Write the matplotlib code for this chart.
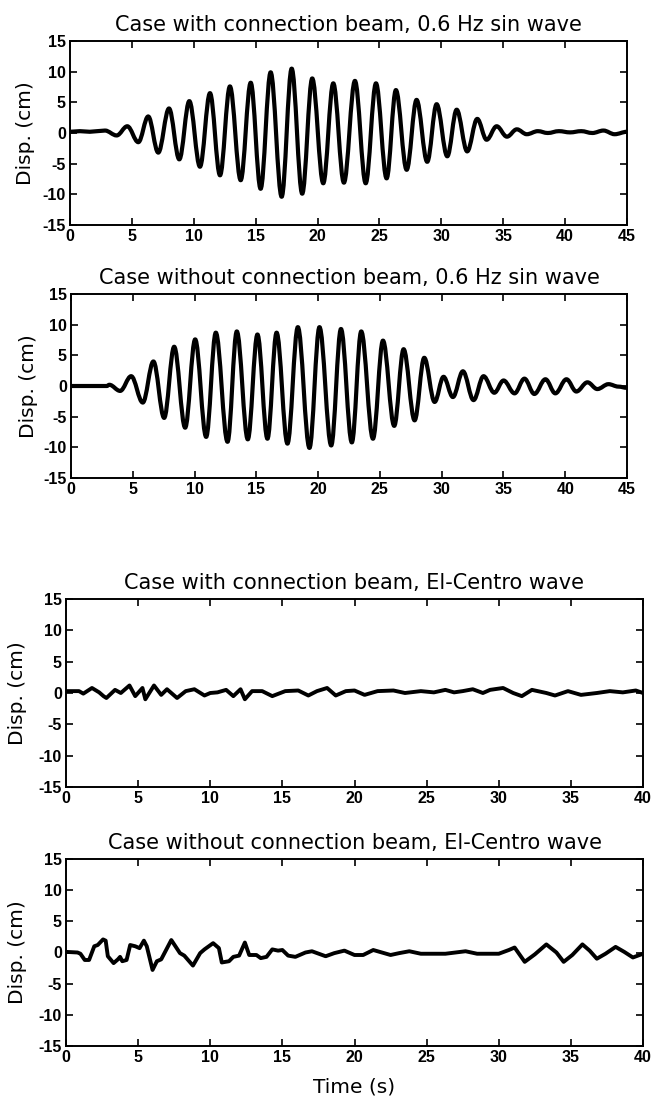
import numpy as np
import matplotlib
matplotlib.use("Agg")
import matplotlib.pyplot as plt
from matplotlib.path import Path
from matplotlib.patches import PathPatch

##### data #####

# case with connection beam, 0.6 Hz sin wave (peaks / troughs)
t_sin_with = [0, 0.8, 1.6, 2.2, 2.83, 3.77, 4.63, 5.52, 6.32, 7.13,
              8.0, 8.83, 9.64, 10.5, 11.31, 12.12, 12.92, 13.79, 14.6, 15.4,
              16.21, 17.1, 17.91, 18.76, 19.57, 20.46, 21.27, 22.13, 23.02, 23.89,
              24.72, 25.58, 26.33, 27.2, 28.0, 28.86, 29.62, 30.48, 31.24, 32.09,
              32.9, 33.66, 34.47, 35.3, 36.1, 36.9, 37.8, 38.6, 39.5, 40.4,
              41.3, 42.2, 43.1, 44.0, 45.0]
d_sin_with = [0.2, 0.3, 0.2, 0.3, 0.4, -0.4, 1.1, -1.5, 2.7, -3.2,
              4.0, -4.3, 5.2, -5.5, 6.5, -6.9, 7.6, -7.7, 8.2, -9.1,
              9.9, -10.4, 10.5, -9.9, 8.9, -8.2, 8.1, -8.1, 8.5, -8.2,
              8.1, -7.4, 7.0, -6.0, 5.4, -4.7, 4.7, -3.8, 3.8, -3.0,
              2.3, -1.1, 1.1, -0.6, 0.6, -0.2, 0.3, 0.0, 0.3, 0.1,
              0.3, 0.0, 0.4, -0.2, 0.2]

# case without connection beam, 0.6 Hz sin wave
t_sin_without = [0, 2.9, 3.1, 3.98, 4.87, 5.81, 6.67, 7.54, 8.35, 9.24,
                 10.05, 10.94, 11.72, 12.67, 13.42, 14.31, 15.09, 15.9, 16.64, 17.52,
                 18.36, 19.3, 20.11, 21.06, 21.85, 22.73, 23.49, 24.44, 25.25, 26.16,
                 26.92, 27.81, 28.59, 29.43, 30.15, 30.91, 31.72, 32.58, 33.39, 34.26,
                 35.01, 35.9, 36.7, 37.5, 38.4, 39.2, 40.1, 40.9, 41.8, 42.6,
                 43.5, 44.3, 45.0]
d_sin_without = [0, 0, 0.2, -0.8, 1.6, -2.7, 4.0, -5.2, 6.4, -6.8,
                 7.6, -8.3, 8.7, -9.1, 8.9, -8.7, 8.4, -8.6, 8.7, -9.4,
                 9.6, -10.1, 9.6, -9.7, 9.3, -9.2, 8.9, -8.6, 7.4, -6.5,
                 6.0, -5.6, 4.6, -2.6, 1.5, -1.8, 2.4, -2.3, 1.6, -1.1,
                 0.9, -1.2, 1.2, -1.3, 1.1, -1.2, 1.1, -0.9, 0.6, -0.5,
                 0.3, -0.1, -0.3]

# case with connection beam, El-Centro wave
t_ec_with = [0, 0.9, 1.2, 1.8, 2.3, 2.6, 2.8, 3.4, 3.8, 4.4,
             4.8, 5.3, 5.5, 6.1, 6.6, 7.0, 7.7, 8.3, 8.9, 9.6,
             10.0, 10.5, 11.1, 11.6, 12.1, 12.4, 12.9, 13.6, 14.3, 15.2,
             16.1, 16.8, 17.4, 18.1, 18.7, 19.4, 20.0, 20.7, 21.6, 22.7,
             23.5, 24.6, 25.5, 26.3, 26.9, 27.5, 28.2, 28.9, 29.4, 30.3,
             31.0, 31.6, 32.3, 33.3, 33.9, 34.8, 35.7, 36.8, 37.7, 38.6,
             39.5, 40.0]
d_ec_with = [0.3, 0.3, -0.1, 0.8, 0.1, -0.5, -0.8, 0.5, 0.0, 1.2,
             -0.5, 0.8, -1.0, 1.2, -0.3, 0.6, -0.8, 0.3, 0.6, -0.4,
             0.0, 0.1, 0.5, -0.5, 0.6, -1.0, 0.3, 0.3, -0.5, 0.3,
             0.4, -0.4, 0.3, 0.8, -0.4, 0.3, 0.4, -0.3, 0.3, 0.4,
             0.0, 0.3, 0.1, 0.5, 0.1, 0.3, 0.6, 0.0, 0.5, 0.8,
             0.0, -0.5, 0.5, 0.0, -0.4, 0.3, -0.3, 0.0, 0.3, 0.1,
             0.4, 0.0]

# case without connection beam, El-Centro wave
t_ec_without = [0, 0.8, 1.0, 1.3, 1.6, 1.96, 2.2, 2.57, 2.75, 2.9,
                3.3, 3.6, 3.75, 3.9, 4.2, 4.45, 4.8, 5.1, 5.4, 5.6,
                6.0, 6.3, 6.6, 7.3, 7.9, 8.2, 8.8, 9.3, 9.6, 10.2,
                10.6, 10.8, 11.3, 11.6, 12.0, 12.4, 12.7, 13.2, 13.5, 13.9,
                14.3, 14.7, 15.0, 15.4, 15.9, 16.6, 17.05, 18.0, 18.6, 19.3,
                20.0, 20.6, 21.3, 21.9, 22.5, 23.1, 23.8, 24.6, 25.5, 26.3,
                27.0, 27.7, 28.5, 29.3, 30.0, 30.7, 31.1, 31.8, 32.5, 33.3,
                34.0, 34.5, 35.1, 35.8, 36.3, 36.8, 37.4, 38.1, 38.7, 39.3,
                40.0]
d_ec_without = [0.1, 0.0, -0.2, -1.2, -1.2, 1.0, 1.2, 2.1, 1.9, -0.6,
                -1.7, -1.1, -0.7, -1.4, -1.2, 1.2, 1.0, 0.7, 1.9, 1.0,
                -2.8, -1.4, -1.1, 2.0, -0.1, -0.5, -2.1, -0.1, 0.5, 1.5,
                0.7, -1.6, -1.4, -0.7, -0.5, 1.6, -0.4, -0.4, -0.9, -0.7,
                0.5, 0.3, 0.4, -0.5, -0.7, 0.0, 0.2, -0.6, -0.1, 0.3,
                -0.4, -0.4, 0.4, 0.0, -0.4, -0.1, 0.2, -0.2, -0.2, -0.2,
                0.0, 0.2, -0.2, -0.2, -0.2, 0.4, 0.8, -1.5, -0.3, 1.3,
                0.0, -1.5, -0.4, 1.3, 0.3, -1.0, -0.2, 0.9, 0.1, -0.8,
                -0.2]

titles = ["Case with connection beam, 0.6 Hz sin wave",
          "Case without connection beam, 0.6 Hz sin wave",
          "Case with connection beam, El-Centro wave",
          "Case without connection beam, El-Centro wave"]
y_ticks = [-15, -10, -5, 0, 5, 10, 15]

##### layout #####
W, H = 660, 1102
plt.rcParams['font.family'] = ['DejaVu Sans']
plt.rcParams['axes.unicode_minus'] = False
tick_font = ['Liberation Sans', 'DejaVu Sans']

fig = plt.figure(figsize=(W / 100, H / 100), dpi=100)


def px_rect(l, t, r, b):
    return [l / W, 1 - b / H, (r - l) / W, (b - t) / H]


def extrema_path(t, d):
    # smooth half-waves between successive extrema (horizontal tangents)
    verts = [(t[0], d[0])]
    codes = [Path.MOVETO]
    for i in range(len(t) - 1):
        dt = t[i + 1] - t[i]
        verts += [(t[i] + 0.36 * dt, d[i]), (t[i + 1] - 0.36 * dt, d[i + 1]), (t[i + 1], d[i + 1])]
        codes += [Path.CURVE4] * 3
    return Path(verts, codes)


panels = [
    (px_rect(70, 41, 627, 225), 45, t_sin_with, d_sin_with, True, -0.062),
    (px_rect(71, 294, 627, 478), 45, t_sin_without, d_sin_without, True, -0.060),
    (px_rect(66, 599, 643, 787), 40, t_ec_with, d_ec_with, False, -0.068),
    (px_rect(66, 859, 643, 1046), 40, t_ec_without, d_ec_without, False, -0.068),
]

for k, (rect, tmax, t, d, smooth, ylab_x) in enumerate(panels):
    ax = fig.add_axes(rect)
    if smooth:
        ax.add_patch(PathPatch(extrema_path(t, d), fill=False, lw=3.0, ec='black',
                               joinstyle='round', capstyle='round'))
    else:
        ax.plot(t, d, color='black', lw=2.8, solid_joinstyle='round')
    ax.set_xlim(0, tmax)
    ax.set_ylim(-15, 15)
    ax.set_xticks(np.arange(0, tmax + 1, 5))
    ax.set_yticks(y_ticks)
    ax.tick_params(direction='in', top=True, right=True, length=5, width=1.2,
                   labelsize=11.5, pad=3)
    for lab in ax.get_xticklabels() + ax.get_yticklabels():
        lab.set_family(tick_font)
        lab.set_fontweight('bold')
    for sp in ax.spines.values():
        sp.set_linewidth(1.4)
    ax.set_title(titles[k], fontsize=15, pad=7)
    ax.set_ylabel("Disp. (cm)", fontsize=14.5)
    ax.yaxis.set_label_coords(ylab_x, 0.5)
    if k == 3:
        ax.set_xlabel("Time (s)", fontsize=14.5)
        ax.xaxis.set_label_coords(0.5, -0.17)

fig.savefig("out.png", dpi=100)
